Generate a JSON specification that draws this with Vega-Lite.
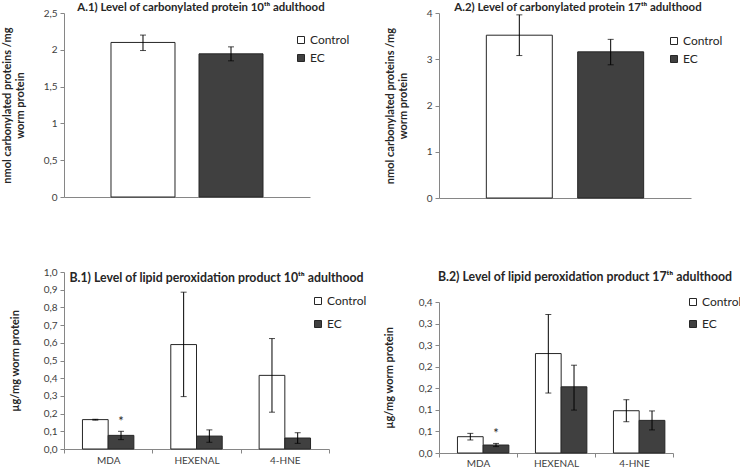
{
  "$schema": "https://vega.github.io/schema/vega-lite/v6.json",
  "autosize": {"type": "pad"},
  "padding": {"left": 1, "top": 1, "right": 0, "bottom": 0},
  "background": "white",
  "datasets": {
    "a1": [
      {"series": "Control", "mean": 2.10, "lo": 1.99, "hi": 2.20},
      {"series": "EC", "mean": 1.945, "lo": 1.85, "hi": 2.04}
    ],
    "a2": [
      {"series": "Control", "mean": 3.52, "lo": 3.08, "hi": 3.96},
      {"series": "EC", "mean": 3.16, "lo": 2.88, "hi": 3.43}
    ],
    "b1": [
      {"group": "MDA", "series": "Control", "mean": 0.166, "lo": 0.163, "hi": 0.168, "sig": ""},
      {"group": "MDA", "series": "EC", "mean": 0.077, "lo": 0.053, "hi": 0.100, "sig": "*"},
      {"group": "HEXENAL", "series": "Control", "mean": 0.59, "lo": 0.296, "hi": 0.886, "sig": ""},
      {"group": "HEXENAL", "series": "EC", "mean": 0.073, "lo": 0.038, "hi": 0.108, "sig": ""},
      {"group": "4-HNE", "series": "Control", "mean": 0.416, "lo": 0.208, "hi": 0.624, "sig": ""},
      {"group": "4-HNE", "series": "EC", "mean": 0.062, "lo": 0.032, "hi": 0.092, "sig": ""}
    ],
    "b2": [
      {"group": "MDA", "series": "Control", "mean": 0.0378, "lo": 0.0302, "hi": 0.0455, "sig": ""},
      {"group": "MDA", "series": "EC", "mean": 0.0185, "lo": 0.0148, "hi": 0.0222, "sig": "*"},
      {"group": "HEXENAL", "series": "Control", "mean": 0.2305, "lo": 0.139, "hi": 0.321, "sig": ""},
      {"group": "HEXENAL", "series": "EC", "mean": 0.1534, "lo": 0.0995, "hi": 0.2035, "sig": ""},
      {"group": "4-HNE", "series": "Control", "mean": 0.098, "lo": 0.0725, "hi": 0.1235, "sig": ""},
      {"group": "4-HNE", "series": "EC", "mean": 0.0756, "lo": 0.0535, "hi": 0.0975, "sig": ""}
    ]
  },
  "spacing": 16,
  "resolve": {"scale": {"color": "independent"}, "legend": {"color": "independent"}},
  "hconcat": [
    {
      "vconcat": [
        {
          "width": 246, "height": 184,
          "title": {"text": "A.1) Level of carbonylated protein 10ᵗʰ adulthood", "anchor": "middle", "frame": "group", "offset": -5, "dx": 14, "fontSize": 11.4},
          "data": {"name": "a1"},
          "layer": [
            {
              "mark": {"type": "bar", "stroke": "#262626", "strokeWidth": 1},
              "encoding": {
                "x": {"field": "series", "type": "nominal", "scale": {"paddingInner": 0.273, "paddingOuter": 0.534}, "axis": {"labels": false, "ticks": false, "title": null}},
                "y": {"field": "mean", "type": "quantitative", "scale": {"domain": [0, 2.5], "nice": false}, "axis": {"values": [0, 0.5, 1, 1.5, 2, 2.5], "tickCount": 30, "format": "~g", "title": ["nmol carbonylated proteins /mg", "worm protein"], "titlePadding": 18}},
                "color": {"field": "series", "type": "nominal", "scale": {"domain": ["Control", "EC"], "range": ["#ffffff", "#404040"]}, "legend": {"orient": "none", "legendX": 231, "legendY": 21, "rowPadding": 6}}
              }
            },
            {
              "mark": {"type": "rule", "color": "#000000", "strokeWidth": 1},
              "encoding": {"x": {"field": "series", "type": "nominal"}, "y": {"field": "lo", "type": "quantitative"}, "y2": {"field": "hi"}}
            },
            {
              "mark": {"type": "tick", "color": "#000000", "size": 6, "thickness": 1},
              "encoding": {"x": {"field": "series", "type": "nominal"}, "y": {"field": "lo", "type": "quantitative"}}
            },
            {
              "mark": {"type": "tick", "color": "#000000", "size": 6, "thickness": 1},
              "encoding": {"x": {"field": "series", "type": "nominal"}, "y": {"field": "hi", "type": "quantitative"}}
            }
          ]
        },
        {
          "width": 265, "height": 177,
          "title": {"text": "B.1) Level of lipid peroxidation product 10ᵗʰ adulthood", "anchor": "middle", "frame": "group", "offset": 0, "dy": 17, "dx": 20},
          "data": {"name": "b1"},
          "layer": [
            {
              "mark": {"type": "bar", "stroke": "#262626", "strokeWidth": 1},
              "encoding": {
                "x": {"field": "group", "type": "nominal", "sort": ["MDA", "HEXENAL", "4-HNE"], "scale": {"paddingInner": 0, "paddingOuter": 0}, "axis": {"title": null, "labelAngle": 0, "tickBand": "extent", "labelPadding": 2}},
                "xOffset": {"field": "series", "type": "nominal", "scale": {"paddingInner": 0, "paddingOuter": 0.718}},
                "y": {"field": "mean", "type": "quantitative", "scale": {"domain": [0, 1], "nice": false}, "axis": {"values": [0, 0.1, 0.2, 0.3, 0.4, 0.5, 0.6, 0.7, 0.8, 0.9, 1.0], "tickCount": 30, "format": ".1f", "title": "µg/mg worm protein", "titlePadding": 23}},
                "color": {"field": "series", "type": "nominal", "scale": {"domain": ["Control", "EC"], "range": ["#ffffff", "#404040"]}, "legend": {"orient": "none", "legendX": 248, "legendY": 23, "rowPadding": 11}}
              }
            },
            {
              "mark": {"type": "rule", "color": "#000000", "strokeWidth": 1},
              "encoding": {"x": {"field": "group", "type": "nominal", "sort": ["MDA", "HEXENAL", "4-HNE"]}, "xOffset": {"field": "series", "type": "nominal"}, "y": {"field": "lo", "type": "quantitative"}, "y2": {"field": "hi"}}
            },
            {
              "mark": {"type": "tick", "color": "#000000", "size": 6, "thickness": 1},
              "encoding": {"x": {"field": "group", "type": "nominal", "sort": ["MDA", "HEXENAL", "4-HNE"]}, "xOffset": {"field": "series", "type": "nominal"}, "y": {"field": "lo", "type": "quantitative"}}
            },
            {
              "mark": {"type": "tick", "color": "#000000", "size": 6, "thickness": 1},
              "encoding": {"x": {"field": "group", "type": "nominal", "sort": ["MDA", "HEXENAL", "4-HNE"]}, "xOffset": {"field": "series", "type": "nominal"}, "y": {"field": "hi", "type": "quantitative"}}
            },
            {
              "mark": {"type": "text", "baseline": "bottom", "dy": -2, "fontSize": 13, "font": "Lato", "color": "#262626"},
              "encoding": {"x": {"field": "group", "type": "nominal", "sort": ["MDA", "HEXENAL", "4-HNE"]}, "xOffset": {"field": "series", "type": "nominal"}, "y": {"field": "hi", "type": "quantitative"}, "text": {"field": "sig"}}
            }
          ]
        }
      ],
      "spacing": 75,
      "bounds": "flush",
      "resolve": {"scale": {"color": "independent"}, "legend": {"color": "independent"}}
    },
    {
      "vconcat": [
        {
          "width": 252, "height": 185,
          "title": {"text": "A.2) Level of carbonylated protein 17ᵗʰ adulthood", "anchor": "middle", "frame": "group", "offset": -5, "dx": 13, "fontSize": 11.4},
          "data": {"name": "a2"},
          "layer": [
            {
              "mark": {"type": "bar", "stroke": "#262626", "strokeWidth": 1},
              "encoding": {
                "x": {"field": "series", "type": "nominal", "scale": {"paddingInner": 0.278, "paddingOuter": 0.518}, "axis": {"labels": false, "ticks": false, "title": null}},
                "y": {"field": "mean", "type": "quantitative", "scale": {"domain": [0, 4], "nice": false}, "axis": {"values": [0, 1, 2, 3, 4], "tickCount": 30, "format": "d", "title": ["nmol carbonylated proteins /mg", "worm protein"], "titlePadding": 18}},
                "color": {"field": "series", "type": "nominal", "scale": {"domain": ["Control", "EC"], "range": ["#ffffff", "#404040"]}, "legend": {"orient": "none", "legendX": 229, "legendY": 22, "rowPadding": 6}}
              }
            },
            {
              "mark": {"type": "rule", "color": "#000000", "strokeWidth": 1},
              "encoding": {"x": {"field": "series", "type": "nominal"}, "y": {"field": "lo", "type": "quantitative"}, "y2": {"field": "hi"}}
            },
            {
              "mark": {"type": "tick", "color": "#000000", "size": 6, "thickness": 1},
              "encoding": {"x": {"field": "series", "type": "nominal"}, "y": {"field": "lo", "type": "quantitative"}}
            },
            {
              "mark": {"type": "tick", "color": "#000000", "size": 6, "thickness": 1},
              "encoding": {"x": {"field": "series", "type": "nominal"}, "y": {"field": "hi", "type": "quantitative"}}
            }
          ]
        },
        {
          "width": 234, "height": 151,
          "title": {"text": "B.2) Level of lipid peroxidation product 17ᵗʰ adulthood", "anchor": "middle", "frame": "group", "offset": 13, "dx": 29},
          "data": {"name": "b2"},
          "layer": [
            {
              "mark": {"type": "bar", "stroke": "#262626", "strokeWidth": 1},
              "encoding": {
                "x": {"field": "group", "type": "nominal", "sort": ["MDA", "HEXENAL", "4-HNE"], "scale": {"paddingInner": 0, "paddingOuter": 0}, "axis": {"title": null, "labelAngle": 0, "tickBand": "extent", "labelPadding": 1}},
                "xOffset": {"field": "series", "type": "nominal", "scale": {"paddingInner": 0, "paddingOuter": 0.77}},
                "y": {"field": "mean", "type": "quantitative", "scale": {"domain": [0, 0.35], "nice": false}, "axis": {"values": [0, 0.05, 0.1, 0.15, 0.2, 0.25, 0.3, 0.35], "tickCount": 30, "labelExpr": "format(round(datum.value * 10 + 0.0001) / 10, '.1f')", "title": "µg/mg worm protein", "titlePadding": 24}},
                "color": {"field": "series", "type": "nominal", "scale": {"domain": ["Control", "EC"], "range": ["#ffffff", "#404040"]}, "legend": {"orient": "none", "legendX": 248, "legendY": -6, "rowPadding": 10}}
              }
            },
            {
              "mark": {"type": "rule", "color": "#000000", "strokeWidth": 1},
              "encoding": {"x": {"field": "group", "type": "nominal", "sort": ["MDA", "HEXENAL", "4-HNE"]}, "xOffset": {"field": "series", "type": "nominal"}, "y": {"field": "lo", "type": "quantitative"}, "y2": {"field": "hi"}}
            },
            {
              "mark": {"type": "tick", "color": "#000000", "size": 6, "thickness": 1},
              "encoding": {"x": {"field": "group", "type": "nominal", "sort": ["MDA", "HEXENAL", "4-HNE"]}, "xOffset": {"field": "series", "type": "nominal"}, "y": {"field": "lo", "type": "quantitative"}}
            },
            {
              "mark": {"type": "tick", "color": "#000000", "size": 6, "thickness": 1},
              "encoding": {"x": {"field": "group", "type": "nominal", "sort": ["MDA", "HEXENAL", "4-HNE"]}, "xOffset": {"field": "series", "type": "nominal"}, "y": {"field": "hi", "type": "quantitative"}}
            },
            {
              "mark": {"type": "text", "baseline": "bottom", "dy": -2, "fontSize": 13, "font": "Lato", "color": "#262626"},
              "encoding": {"x": {"field": "group", "type": "nominal", "sort": ["MDA", "HEXENAL", "4-HNE"]}, "xOffset": {"field": "series", "type": "nominal"}, "y": {"field": "hi", "type": "quantitative"}, "text": {"field": "sig"}}
            }
          ]
        }
      ],
      "spacing": 104,
      "bounds": "flush",
      "resolve": {"scale": {"color": "independent"}, "legend": {"color": "independent"}}
    }
  ],
  "config": {
    "locale": {"number": {"decimal": ",", "thousands": ".", "grouping": [3], "currency": ["", " €"]}},
    "view": {"stroke": null},
    "font": "Lato",
    "title": {"font": "Lato", "fontSize": 12.3, "fontWeight": "bold", "color": "#262626"},
    "axis": {"grid": false, "domainColor": "#868686", "tickColor": "#868686", "tickSize": 4, "labelFont": "Lato", "labelFontSize": 10, "labelColor": "#404040", "titleFont": "Lato", "titleFontSize": 11, "titleFontWeight": "bold", "titleColor": "#262626", "labelPadding": 3, "labelOverlap": false, "labelFlush": false, "labelBound": false},
    "legend": {"symbolType": "square", "symbolSize": 49, "symbolStrokeColor": "#262626", "symbolStrokeWidth": 1, "labelFont": "Lato", "labelFontSize": 12, "labelColor": "#262626", "padding": 0, "labelOffset": 3, "title": null}
  }
}
